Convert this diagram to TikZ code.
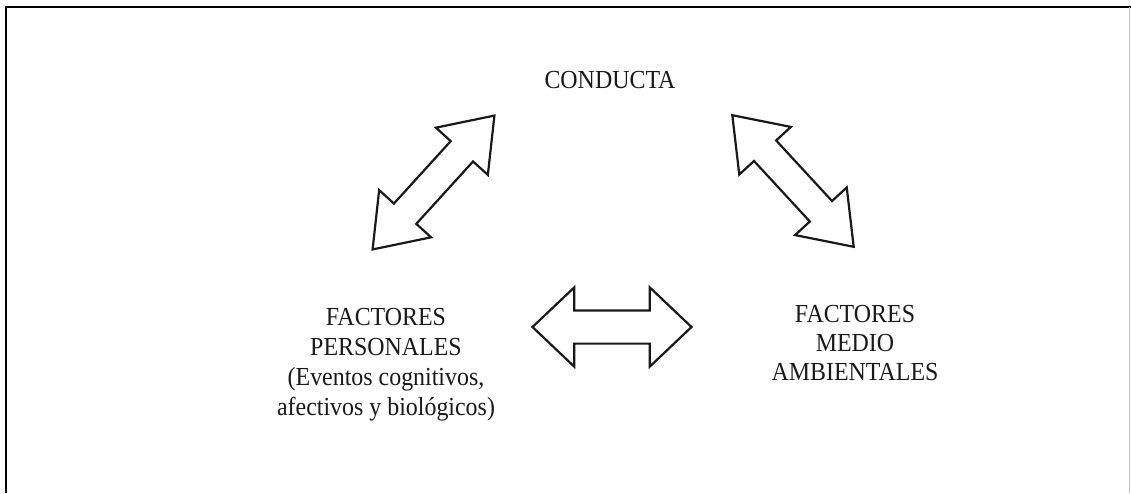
\documentclass[tikz,border=0pt]{standalone}
\usepackage{fontspec}
\setmainfont[FakeStretch=0.92]{Liberation Serif}
\usetikzlibrary{shapes.arrows}

\tikzset{
  factor/.style={align=center, inner sep=0pt, text=black!90,
    font=\fontsize{26}{30}\selectfont},
  twoway/.style={double arrow, draw=black!90, line width=2.2pt,
    inner sep=0pt, minimum width=0pt},
}

\begin{document}
\begin{tikzpicture}[x=1pt,y=1pt]
\useasboundingbox (0,0) rectangle (1131,493);
% frame
\draw[line width=1.6pt] (6,0) -- (6,486) -- (1131,486);
\draw[black!25, line width=0.6pt] (1129.5,0) -- (1129.5,486);
% top
\node[factor, anchor=base] (conducta) at (610,404) {CONDUCTA};
% bottom left and right
\node[factor, anchor=north] (personales) at (386,185)
  {FACTORES\\PERSONALES\\(Eventos cognitivos,\\afectivos y biológicos)};
\node[factor, anchor=north, font=\fontsize{26}{29}\selectfont]
  (ambientales) at (855,188) {FACTORES\\MEDIO\\AMBIENTALES};
% block arrows
\node[twoway, rotate=47.7, minimum height=181pt, inner ysep=14pt,
  double arrow head extend=20pt, double arrow tip angle=72]
  (perscond) at (433.5,310.5) {};
\node[twoway, rotate=-47.3, minimum height=179pt, inner ysep=14pt,
  double arrow head extend=20pt, double arrow tip angle=72]
  (condamb) at (793,312) {};
\node[twoway, minimum height=159pt, inner ysep=15.5pt,
  double arrow head extend=23pt, double arrow tip angle=87]
  (persamb) at (612,166) {};
\end{tikzpicture}
\end{document}
